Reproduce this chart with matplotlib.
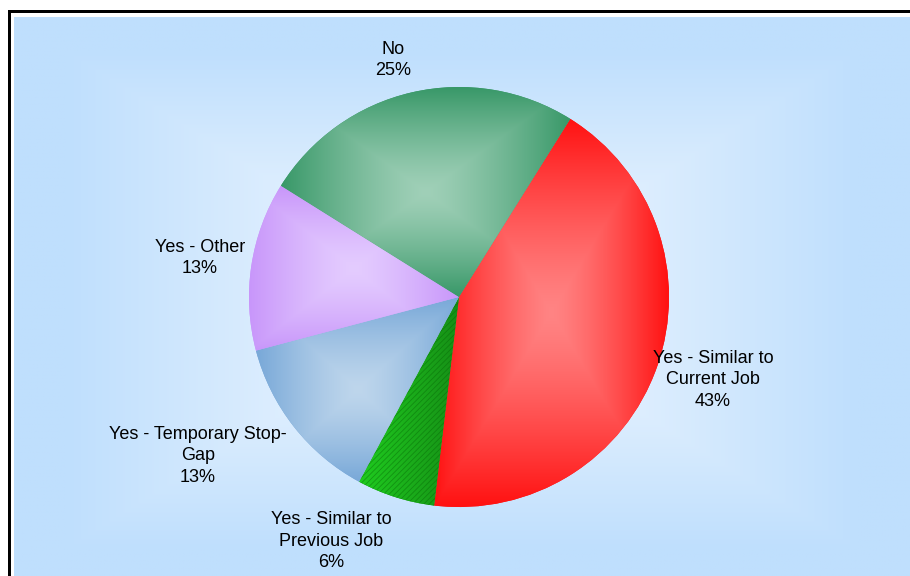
import numpy as np
import matplotlib
matplotlib.use("Agg")
import matplotlib.pyplot as plt
from matplotlib.patches import Wedge, Rectangle

# Survey answers and their shares (percent)
categories = ["Yes - Similar to Current Job", "Yes - Similar to Previous Job",
              "Yes - Temporary Stop-Gap", "Yes - Other", "No"]
label_text = ["Yes - Similar to\nCurrent Job", "Yes - Similar to\nPrevious Job",
              "Yes - Temporary Stop-\nGap", "Yes - Other", "No"]
shares = [43, 6, 13, 13, 25]

# Slice shading: (edge colour, centre highlight colour)
slice_colors = [
    ("#FF1111", "#FF8484"),
    ("#168F16", "#1FCC1F"),
    ("#78A8D8", "#BED6EC"),
    ("#C896FA", "#E4CCFF"),
    ("#389868", "#A0D0B8"),
]
# label centres in pie-radius units
label_pos = [(1.21, -0.395), (-0.61, -1.162), (-1.243, -0.757),
             (-1.233, 0.186), (-0.314, 1.129)]

plt.rcParams["font.family"] = ["Liberation Sans", "DejaVu Sans"]

W, H, DPI = 910, 576, 100
fig = plt.figure(figsize=(W / DPI, H / DPI), dpi=DPI)
fig.patch.set_facecolor("white")

# ---- background panel (pixel coordinates) ----
bg = fig.add_axes([0, 0, 1, 1])
bg.set_xlim(0, W)
bg.set_ylim(H, 0)
bg.axis("off")

px0, py0, px1, py1 = 14, 17, W, H
gx = np.linspace(px0, px1, 600)
gy = np.linspace(py0, py1, 400)
GX, GY = np.meshgrid(gx, gy)
cx, cy, hw, hh = 462, 300, 450, 283
t = np.maximum(np.abs(GX - cx) / hw, np.abs(GY - cy) / hh)
t = np.clip(t / 0.88, 0, 1) ** 1.1
edge_bg = np.array([191, 223, 253]) / 255
centre_bg = np.array([242, 248, 255]) / 255
img = centre_bg[None, None, :] * (1 - t[..., None]) + edge_bg[None, None, :] * t[..., None]
bg.imshow(img, extent=(px0, px1, py1, py0), aspect="auto", interpolation="bilinear", zorder=1)

# frame lines
bg.add_patch(Rectangle((8, 10), W, 3, facecolor="black", edgecolor="none", zorder=3))
bg.add_patch(Rectangle((8, 10), 3, H, facecolor="black", edgecolor="none", zorder=3))

# ---- pie (1 unit = 210 px, centre at pixel 459, 297) ----
R_PX = 210.0
CXP, CYP = 459.0, 297.0
ax = fig.add_axes([0, 0, 1, 1])
ax.patch.set_alpha(0)
wedges, _ = ax.pie(shares, startangle=58, counterclock=False, radius=1, center=(0, 0),
                   colors=[c[0] for c in slice_colors],
                   wedgeprops=dict(linewidth=0))
ax.set_aspect("auto")
ax.set_xlim(-CXP / R_PX, (W - CXP) / R_PX)
ax.set_ylim(-(H - CYP) / R_PX, CYP / R_PX)
ax.axis("off")


def wedge_bbox(w):
    th = np.linspace(np.radians(w.theta1), np.radians(w.theta2), 400)
    xs = np.concatenate([[w.center[0]], w.r * np.cos(th) + w.center[0]])
    ys = np.concatenate([[w.center[1]], w.r * np.sin(th) + w.center[1]])
    return xs.min(), xs.max(), ys.min(), ys.max()


for i, w in enumerate(wedges):
    x0, x1, y0, y1 = wedge_bbox(w)
    edge_c = np.array(matplotlib.colors.to_rgb(slice_colors[i][0]))
    cen_c = np.array(matplotlib.colors.to_rgb(slice_colors[i][1]))
    xs = np.linspace(x0, x1, 300)
    ys = np.linspace(y0, y1, 300)
    XX, YY = np.meshgrid(xs, ys)
    if i == 1:
        # small slice: left-to-right fade, bright to deep green
        tt = np.clip((XX - x0) / (x1 - x0), 0, 1)[..., None]
    else:
        mx, my = (x0 + x1) / 2, (y0 + y1) / 2
        tt = np.maximum(np.abs(XX - mx) / ((x1 - x0) / 2), np.abs(YY - my) / ((y1 - y0) / 2))
        tt = (np.clip(tt, 0, 1) ** 1.3)[..., None]
    im = cen_c * (1 - tt) + edge_c * tt
    image = ax.imshow(im, extent=(x0, x1, y0, y1), origin="lower", aspect="auto",
                      interpolation="bilinear", zorder=w.get_zorder() + 0.5)
    image.set_clip_path(w)

# fine texture on the small green slice
plt.rcParams["hatch.linewidth"] = 0.6
ws = wedges[1]
tex = Wedge(ws.center, ws.r, ws.theta1, ws.theta2, facecolor="none",
            edgecolor=(0.02, 0.40, 0.02, 0.45), linewidth=0, hatch="//////",
            zorder=ws.get_zorder() + 1)
ax.add_patch(tex)

for i in range(len(shares)):
    ax.text(label_pos[i][0], label_pos[i][1], f"{label_text[i]}\n{shares[i]}%",
            ha="center", va="center", fontsize=13, color="black",
            linespacing=1.36, zorder=10)

fig.savefig("out.png", dpi=DPI)
